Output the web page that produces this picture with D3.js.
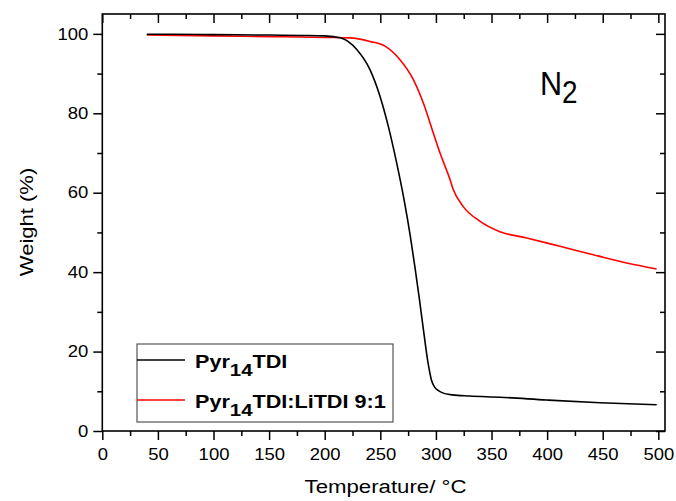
<html>
<head>
  <script src="https://d3js.org/d3.v7.min.js"></script>
  <title>TGA N2</title>
  <style>
    body { margin: 0; background: #fff; }
  </style>
</head>
<body>
  <div id="container"></div>
  <script>
    // curve data (temperature in °C, weight in %)
    var tempPure = [40, 60, 100, 150, 180, 200, 214, 229, 240.7, 249.7, 257.2, 264.7, 271.5, 277, 281, 285, 289, 293, 296, 299, 302, 306, 315, 330, 357.6, 399.6, 447.6, 498.5];
    var weightPure = [99.9, 99.9, 99.8, 99.7, 99.6, 99.5, 99.0, 96.0, 91.0, 84.3, 76.7, 67.5, 58.0, 49.0, 41.5, 33.5, 25.0, 17.0, 12.8, 11.0, 10.2, 9.6, 9.1, 8.8, 8.5, 7.8, 7.1, 6.6];
    var tempMix = [40, 100, 150, 177.8, 200, 222.7, 240.7, 254.2, 267.7, 279.7, 288.7, 297.7, 303.7, 312.7, 315.6, 324.6, 339.7, 357.6, 381.7, 411.6, 441.5, 471.6, 498.5];
    var weightMix = [99.7, 99.5, 99.3, 99.2, 99.1, 99.0, 98.1, 96.9, 93.5, 88.5, 82.6, 75.0, 70.0, 63.3, 60.8, 56.5, 52.8, 50.2, 48.6, 46.5, 44.4, 42.3, 40.8];
    var seriesNames = ["Pyr", "Pyr"];
    var seriesColors = ["#000000", "#ff0000"];
    var xMajor = [0, 50, 100, 150, 200, 250, 300, 350, 400, 450, 500];
    var xMinor = [25, 75, 125, 175, 225, 275, 325, 375, 425, 475];
    var yMajor = [0, 20, 40, 60, 80, 100];
    var yMinor = [10, 30, 50, 70, 90];

    var W = 676, H = 501;
    // plot edges (note: "top" is a reserved window name, so use pTop etc.)
    var pLeft = 102.3, pRight = 665, pTop = 14, pBottom = 431;
    var font = "'Liberation Sans', Arial, sans-serif";

    var svg = d3.select("#container").append("svg")
      .attr("width", W).attr("height", H)
      .style("font-family", font);

    var x = d3.scaleLinear().domain([0, 506]).range([pLeft, pRight]);
    var y = d3.scaleLinear().domain([0, 105]).range([pBottom, pTop]);

    // bottom axis (outward ticks + labels)
    svg.append("g").attr("transform", "translate(0," + pBottom + ")")
      .call(d3.axisBottom(x).tickValues(xMajor).tickSize(9).tickPadding(8).tickFormat(d3.format("d")));
    svg.append("g").attr("transform", "translate(0," + pBottom + ")")
      .call(d3.axisBottom(x).tickValues(xMinor).tickSize(5).tickFormat(""));
    // left axis
    svg.append("g").attr("transform", "translate(" + pLeft + ",0)")
      .call(d3.axisLeft(y).tickValues(yMajor).tickSize(9).tickPadding(3.5).tickFormat(d3.format("d")));
    svg.append("g").attr("transform", "translate(" + pLeft + ",0)")
      .call(d3.axisLeft(y).tickValues(yMinor).tickSize(5).tickFormat(""));
    // top + right axes, inward ticks
    svg.append("g").attr("transform", "translate(0," + pTop + ")")
      .call(d3.axisTop(x).tickValues(xMajor).tickSize(-9).tickFormat(""));
    svg.append("g").attr("transform", "translate(0," + pTop + ")")
      .call(d3.axisTop(x).tickValues(xMinor).tickSize(-5).tickFormat(""));
    svg.append("g").attr("transform", "translate(" + pRight + ",0)")
      .call(d3.axisRight(y).tickValues(yMajor).tickSize(-9).tickFormat(""));
    svg.append("g").attr("transform", "translate(" + pRight + ",0)")
      .call(d3.axisRight(y).tickValues(yMinor).tickSize(-5).tickFormat(""));

    svg.selectAll(".domain").remove();
    svg.selectAll(".tick line").attr("stroke", "#000").attr("stroke-width", 1.5);
    svg.selectAll(".tick text")
      .attr("font-family", font)
      .attr("font-size", "16.5px")
      .attr("fill", "#000")
      .attr("transform", "scale(1.12,1)");

    // frame
    svg.append("rect")
      .attr("x", pLeft).attr("y", pTop)
      .attr("width", pRight - pLeft).attr("height", pBottom - pTop)
      .attr("fill", "none").attr("stroke", "#000").attr("stroke-width", 1.6);

    // curves
    var line = d3.line()
      .x(function(d) { return x(d[0]); })
      .y(function(d) { return y(d[1]); })
      .curve(d3.curveMonotoneX);

    var mix = d3.zip(tempMix, weightMix);
    var pure = d3.zip(tempPure, weightPure);

    svg.append("path").datum(mix)
      .attr("d", line).attr("fill", "none")
      .attr("stroke", seriesColors[1]).attr("stroke-width", 1.6);
    svg.append("path").datum(pure)
      .attr("d", line).attr("fill", "none")
      .attr("stroke", seriesColors[0]).attr("stroke-width", 1.6);

    // axis titles
    svg.append("text")
      .attr("transform", "translate(385.5,493) scale(1.17,1)")
      .attr("text-anchor", "middle")
      .attr("font-size", "19px")
      .text("Temperature/ °C");
    svg.append("text")
      .attr("transform", "translate(33,222) rotate(-90) scale(1.16,1)")
      .attr("text-anchor", "middle")
      .attr("font-size", "19px")
      .text("Weight (%)");

    // N2 label
    var n2 = svg.append("text")
      .attr("transform", "translate(540,95) scale(0.9,1)")
      .attr("font-size", "34px");
    n2.append("tspan").text("N");
    n2.append("tspan").attr("font-size", "31px").attr("dy", 8).text("2");

    // legend
    svg.append("rect")
      .attr("x", 137).attr("y", 344).attr("width", 256).attr("height", 78)
      .attr("fill", "#fff").attr("stroke", "#555").attr("stroke-width", 1.2);

    var legendY = [360, 400];
    var legendTail = ["TDI", "TDI:LiTDI 9:1"];
    legendY.forEach(function(ly, i) {
      svg.append("line")
        .attr("x1", 137).attr("x2", 185)
        .attr("y1", ly).attr("y2", ly)
        .attr("stroke", seriesColors[i]).attr("stroke-width", 1.5);
      var t = svg.append("text")
        .attr("transform", "translate(195," + (ly + 8) + ") scale(1.2,1)")
        .attr("font-size", "18px")
        .attr("font-weight", "bold");
      t.append("tspan").text(seriesNames[i]);
      t.append("tspan").attr("font-size", "17px").attr("dy", 8).text("14");
      t.append("tspan").attr("dy", -8).text(legendTail[i]);
    });
  </script>
</body>
</html>
